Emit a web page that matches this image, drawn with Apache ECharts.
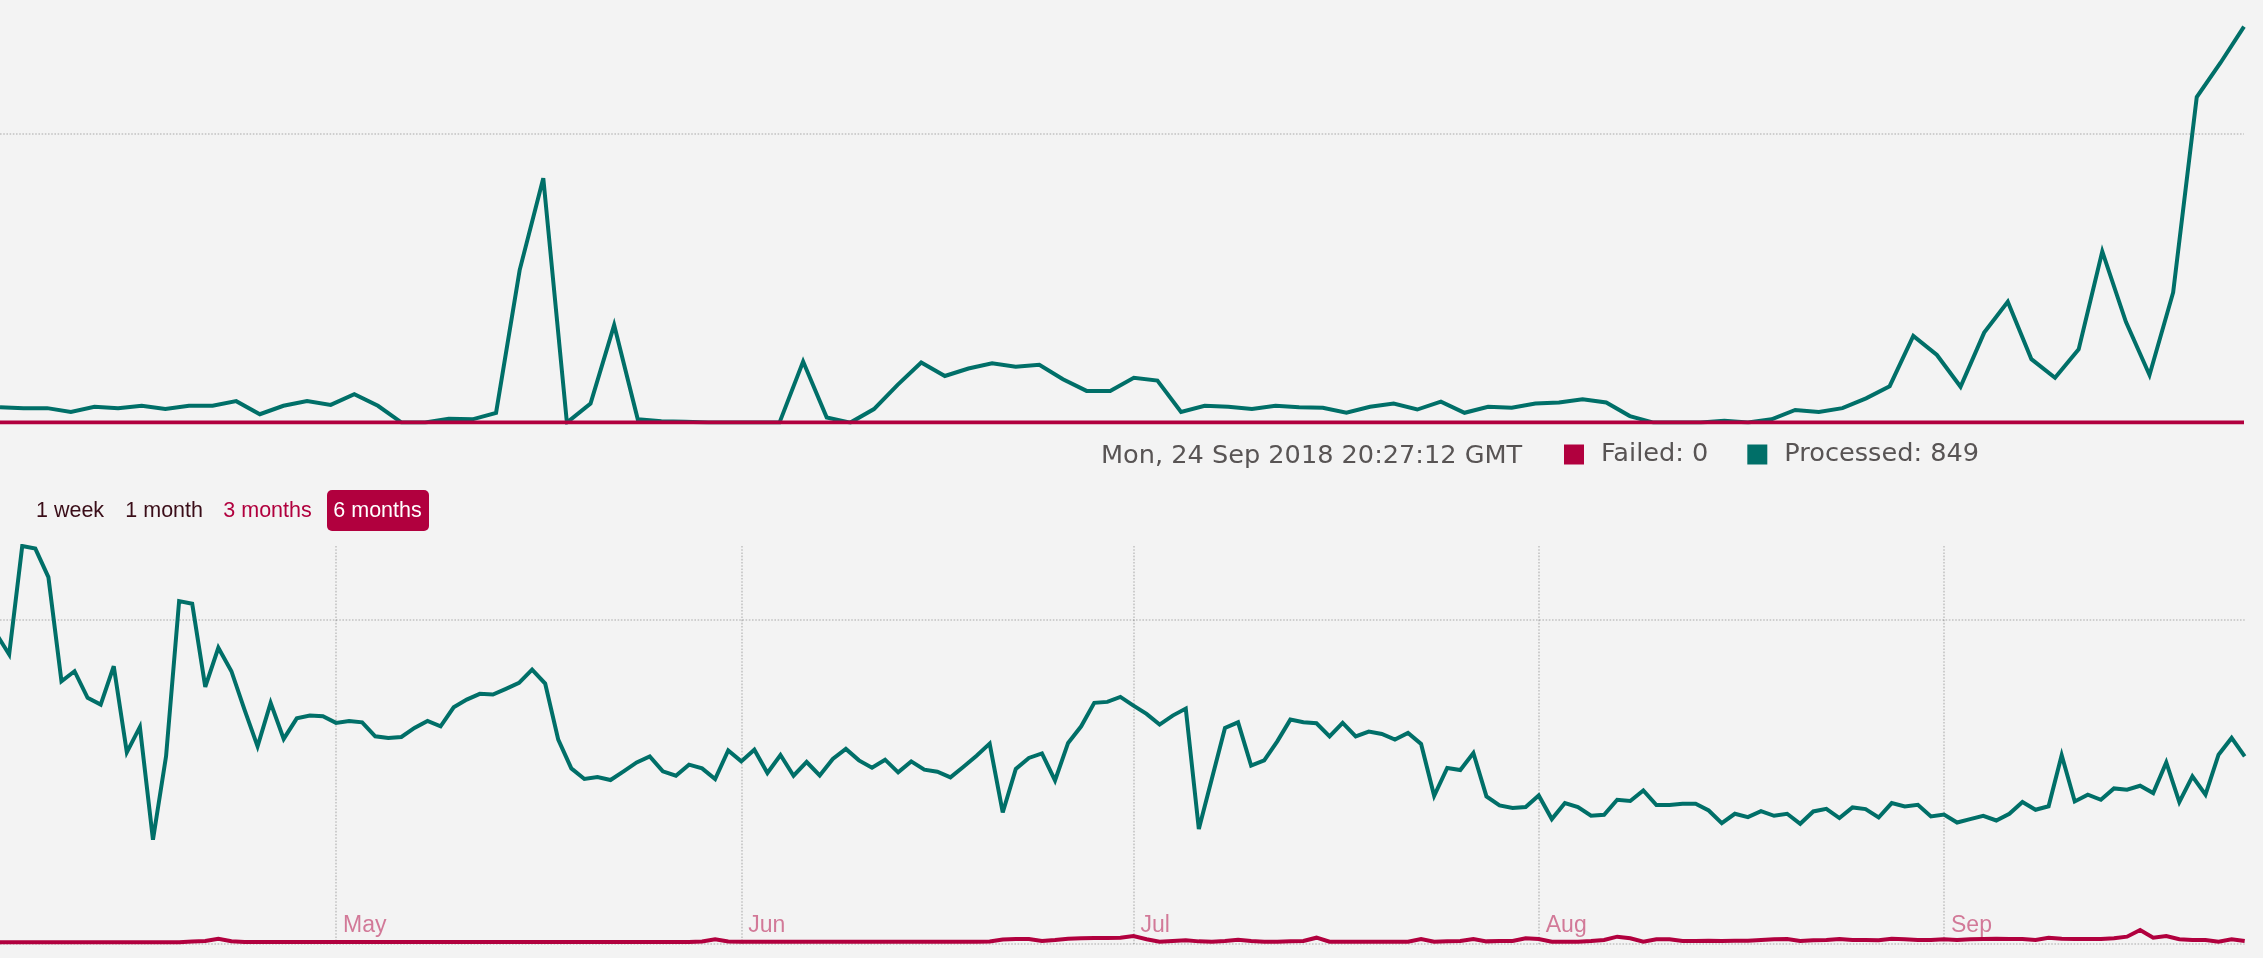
<!DOCTYPE html>
<html>
<head>
<meta charset="utf-8">
<script src="https://cdn.jsdelivr.net/npm/echarts@6.0.0/dist/echarts.min.js"></script>
<style>
  html, body { margin: 0; padding: 0; background: #f3f3f3; }
  #chart { width: 2263px; height: 958px; }
</style>
</head>
<body>
<div id="chart"></div>
<script>
// ---------- DATA ----------
// Real-time graph (one value per poll)
const realtimeProcessed = [33,31,31,23,34,31,36,29,36,36,
  46,18,36,46,38,61,36,0,0,8,
  7,21,327,524,0,41,209,7,3,2,
  0,0,0,0,131,11,0,29,81,129,
  100,116,127,120,124,93,68,68,96,90,
  23,36,34,29,36,33,32,21,34,41,
  28,45,21,34,32,41,43,50,43,14,
  0,0,0,4,0,7,27,23,31,52,
  78,186,145,77,193,259,136,96,157,367,
  216,102,279,698,771,849];
const realtimeFailed = [0,0,0,0,0,0,0,0,0,0, 0,0,0,0,0,0,0,0,0,0,
  0,0,0,0,0,0,0,0,0,0, 0,0,0,0,0,0,0,0,0,0,
  0,0,0,0,0,0,0,0,0,0, 0,0,0,0,0,0,0,0,0,0,
  0,0,0,0,0,0,0,0,0,0, 0,0,0,0,0,0,0,0,0,0,
  0,0,0,0,0,0,0,0,0,0, 0,0,0,0,0,0];
const realtimeEnd = '2018-09-24T20:27:12Z';
const pollSeconds = 5;
const legendTimestamp = 'Mon, 24 Sep 2018 20:27:12 GMT';

// History graph (one value per day, starting 2018-04-05)
const historyStart = '2018-04-05';
const historyViewStart = '2018-04-05T07:10:00Z';
const historyProcessed = [19136,17840,24525,24364,22612,16191,16809,15167,14753,17117,
  11809,13377,6420,11562,21130,20969,15846,18253,16809,14444,
  12179,14858,12636,13907,14074,14031,13624,13747,13661,12796,
  12697,12759,13315,13747,13414,14586,15062,15414,15370,15722,
  16093,16913,16049,12593,10821,10167,10290,10105,10636,11191,
  11562,10636,10370,11049,10821,10167,11932,11253,11975,10537,
  11648,10370,11216,10389,11401,12019,11315,10864,11358,10574,
  11253,10741,10617,10265,10926,11605,12346,8105,10784,11463,
  11747,10080,12389,13414,14858,14920,15228,14691,14179,13519,
  14074,14506,7080,10198,13315,13661,10988,11315,12488,13827,
  13661,13599,12796,13624,12796,13086,12944,12593,13006,12327,
  9136,10846,10722,11772,9093,8537,8377,8438,9154,7698,
  8685,8438,7901,7963,8889,8809,9463,8562,8562,8642,
  8642,8228,7451,8025,7821,8191,7901,8025,7407,8167,
  8333,7759,8414,8315,7796,8685,8475,8580,7858,7981,
  7488,7698,7901,7611,8025,8747,8272,8488,11636,8784,
  9198,8889,9586,9506,9753,9302,11191,8747,10327,9198,
  11667,12697,11562];
const historyFailed = [110,110,110,110,110,110,110,110,110,110,
  110,110,110,110,110,150,185,327,167,123,
  123,123,123,123,123,123,123,123,123,123,
  123,123,123,123,123,123,123,123,123,123,
  123,123,123,123,123,123,123,123,123,123,
  123,123,123,123,160,290,150,142,142,142,
  142,142,142,142,142,142,142,142,142,142,
  142,142,142,142,142,142,160,278,309,309,
  185,247,327,352,370,370,389,494,290,142,
  185,228,162,142,185,265,185,142,142,162,
  185,389,142,142,142,142,142,142,142,309,
  142,162,185,309,162,185,185,352,309,142,
  142,142,185,247,451,352,142,290,290,185,
  185,205,185,205,205,247,290,309,185,228,
  247,309,247,247,228,329,290,247,247,290,
  247,290,309,329,309,309,247,389,329,309,
  309,309,352,451,864,389,494,290,247,247,
  142,290,185];
const monthTicks = ['2018-05-01','2018-06-01','2018-07-01','2018-08-01','2018-09-01'];
const monthLabels = ['May','Jun','Jul','Aug','Sep'];
const rangeButtons = ['1 week','1 month','3 months','6 months'];

// ---------- DERIVED ----------
const DAY = 86400000;
const endMs = Date.parse(realtimeEnd);
const realtimeTimes = realtimeProcessed.map((_, k) =>
  new Date(endMs - (realtimeProcessed.length - 1 - k) * pollSeconds * 1000).toISOString().slice(11, 19));
const histT0 = Date.parse(historyStart + 'T00:00:00Z');
const historyTimes = historyProcessed.map((_, k) => histT0 + k * DAY);
const monthTickValues = monthTicks.map(d => Date.parse(d + 'T00:00:00Z'));

const GREEN = '#006f68';
const RED = '#b1003e';
const LW = 4;
const gridLine = { show: true, showMaxLine: false, lineStyle: { color: 'rgba(0,0,0,0.2)', width: 1.6, type: [1.6, 1.6] } };
const lineCommon = { type: 'line', symbol: 'none', showSymbol: false, animation: false, silent: true };

const chart = echarts.init(document.getElementById('chart'), null, { renderer: 'canvas' });
chart.setOption({
  backgroundColor: '#f3f3f3',
  animation: false,
  title: {
    text: legendTimestamp, left: 1101, top: 441.5, padding: 0,
    textStyle: { fontFamily: 'DejaVu Sans', fontSize: 25.6, fontWeight: 'normal', color: '#585454', lineHeight: 30 }
  },
  legend: {
    data: ['Failed', 'Processed'], left: 1564, top: 439.5, padding: 0,
    itemWidth: 20, itemHeight: 20, itemGap: 39, icon: 'rect', selectedMode: false,
    formatter: name => name + ': ' + (name === 'Failed'
      ? realtimeFailed[realtimeFailed.length - 1]
      : realtimeProcessed[realtimeProcessed.length - 1]),
    textStyle: { fontFamily: 'DejaVu Sans', fontSize: 25.6, color: '#585454', padding: [4, 0, 0, 12], lineHeight: 26 }
  },
  grid: [
    { left: 0, top: 0, width: 2244, height: 422.6 },
    { left: 0, top: 546, width: 2244.7, height: 398 }
  ],
  xAxis: [
    { gridIndex: 0, type: 'category', boundaryGap: false, data: realtimeTimes, show: false },
    {
      gridIndex: 1, type: 'value',
      min: Date.parse(historyViewStart), max: historyTimes[historyTimes.length - 1],
      axisLine: { show: false },
      axisTick: { show: false, customValues: monthTickValues },
      axisLabel: {
        show: true, inside: true, margin: 7, customValues: monthTickValues,
        align: 'left', padding: [0, 0, 0, 7],
        fontFamily: 'Liberation Sans', fontSize: 23, lineHeight: 23, color: 'rgba(177,0,62,0.5)',
        formatter: v => monthLabels[monthTickValues.indexOf(v)] || ''
      },
      splitLine: { show: true, lineStyle: { color: 'rgba(0,0,0,0.2)', width: 1.6, type: [1.6, 1.6] } }
    }
  ],
  yAxis: [
    { gridIndex: 0, type: 'value', min: 0, max: 906, interval: 620,
      axisLine: { show: false }, axisTick: { show: false }, axisLabel: { show: false }, splitLine: gridLine },
    { gridIndex: 1, type: 'value', min: 0, max: Math.max(...historyProcessed), interval: 20000,
      axisLine: { show: false }, axisTick: { show: false }, axisLabel: { show: false }, splitLine: gridLine }
  ],
  graphic: [
    { type: 'rect', x: 327, y: 490, shape: { x: 0, y: 0, width: 102, height: 41, r: 5 }, style: { fill: RED }, silent: true },
    { type: 'text', x: 36, y: 511.5, silent: true,
      style: { text: rangeButtons[0], fill: '#3a0d18', font: '21.5px "Liberation Sans"', align: 'left', verticalAlign: 'middle' } },
    { type: 'text', x: 125.3, y: 511.5, silent: true,
      style: { text: rangeButtons[1], fill: '#3a0d18', font: '21.5px "Liberation Sans"', align: 'left', verticalAlign: 'middle' } },
    { type: 'text', x: 223.3, y: 511.5, silent: true,
      style: { text: rangeButtons[2], fill: RED, font: '21.5px "Liberation Sans"', align: 'left', verticalAlign: 'middle' } },
    { type: 'text', x: 333.3, y: 511.5, silent: true,
      style: { text: rangeButtons[3], fill: '#ffffff', font: '21.5px "Liberation Sans"', align: 'left', verticalAlign: 'middle' } }
  ],
  series: [
    Object.assign({}, lineCommon, { name: 'Processed', xAxisIndex: 0, yAxisIndex: 0, data: realtimeProcessed,
      color: GREEN, lineStyle: { color: GREEN, width: LW, join: 'miter', miterLimit: 4 }, z: 2 }),
    Object.assign({}, lineCommon, { name: 'Failed', xAxisIndex: 0, yAxisIndex: 0, data: realtimeFailed,
      color: RED, lineStyle: { color: RED, width: LW, join: 'miter', miterLimit: 4 }, z: 3 }),
    Object.assign({}, lineCommon, { name: 'Processed', xAxisIndex: 1, yAxisIndex: 1,
      data: historyProcessed.map((v, k) => [historyTimes[k], v]),
      color: GREEN, lineStyle: { color: GREEN, width: LW, join: 'miter', miterLimit: 4 }, z: 2 }),
    Object.assign({}, lineCommon, { name: 'Failed', xAxisIndex: 1, yAxisIndex: 1,
      data: historyFailed.map((v, k) => [historyTimes[k], v]),
      color: RED, lineStyle: { color: RED, width: LW, join: 'miter', miterLimit: 4 }, z: 3 })
  ]
});
</script>
</body>
</html>
